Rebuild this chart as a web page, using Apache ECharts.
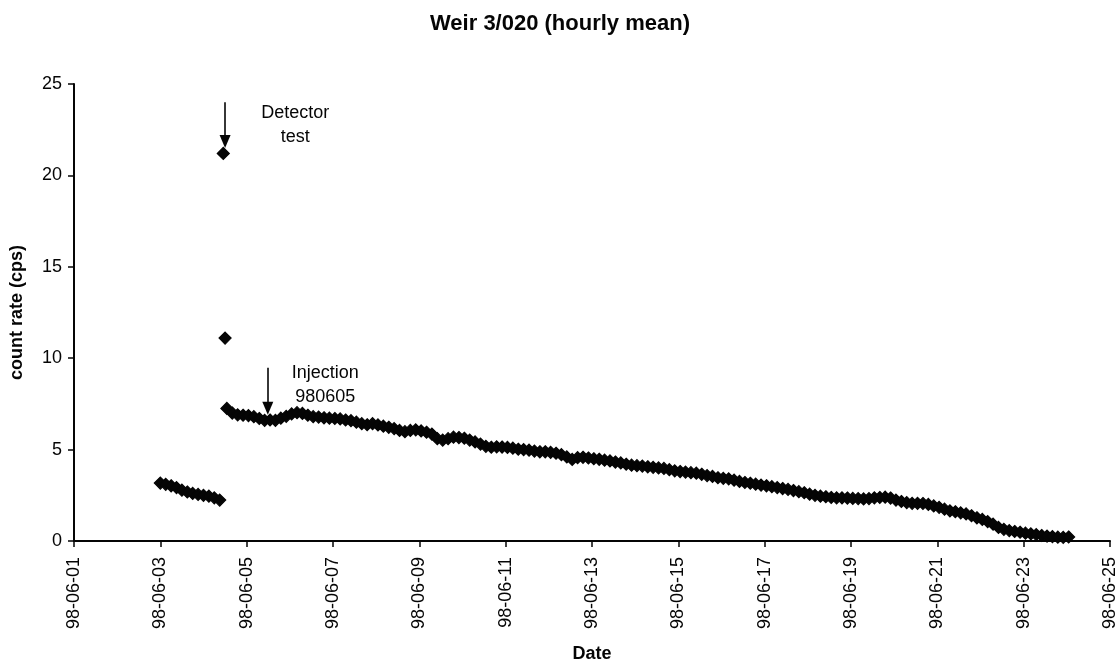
<!DOCTYPE html>
<html>
<head>
<meta charset="utf-8">
<script src="https://cdn.jsdelivr.net/npm/echarts@6/dist/echarts.min.js"></script>
<style>
  html, body { margin: 0; padding: 0; background: #fff; }
  #chart { width: 1120px; height: 668px; }
</style>
</head>
<body>
<div id="chart"></div>
<script>
// Weir 3/020 – hourly mean count rate, June 1998.
// Times are given as "MM-DD HH:mm" in 1998; samples are every 3 hours within each run.

const dateTicks = ['98-06-01', '98-06-03', '98-06-05', '98-06-07', '98-06-09', '98-06-11', '98-06-13',
  '98-06-15', '98-06-17', '98-06-19', '98-06-21', '98-06-23', '98-06-25'];
const countTicks = [0, 5, 10, 15, 20, 25];

const stepHours = 3;

// Background run before the detector test
const run1Start = '06-03 00:00';
const run1Values = [3.17, 3.1, 3.02, 2.92, 2.78, 2.68, 2.6, 2.55, 2.5, 2.45, 2.36, 2.24];

// Detector test readings
const testTimes = ['06-04 11:00', '06-04 12:00'];
const testValues = [21.2, 11.1];

// Run after the detector test, through the injection of 980605
const run2Start = '06-04 13:00';
const run2Values = [
  7.25, 7.0, 6.9, 6.88, 6.86, 6.8, 6.7, 6.6,
  6.62, 6.6, 6.72, 6.82, 6.95, 7.02, 6.98, 6.88,
  6.8, 6.78, 6.74, 6.72, 6.7, 6.68, 6.62, 6.58,
  6.5, 6.42, 6.36, 6.42, 6.35, 6.28, 6.22, 6.15,
  6.05, 5.98, 6.05, 6.08, 6.02, 5.95, 5.85, 5.6,
  5.52, 5.6, 5.68, 5.66, 5.62, 5.52, 5.42, 5.3,
  5.18, 5.13, 5.15, 5.14, 5.12, 5.08, 5.02, 5.0,
  4.97, 4.92, 4.88, 4.88, 4.85, 4.8, 4.72, 4.6,
  4.46, 4.56, 4.58, 4.54, 4.5, 4.47, 4.42, 4.38,
  4.32, 4.27, 4.2, 4.15, 4.12, 4.1, 4.06, 4.03,
  4.0, 3.97, 3.9, 3.84, 3.8, 3.77, 3.74, 3.71,
  3.65, 3.58, 3.53, 3.46, 3.43, 3.4, 3.33, 3.26,
  3.2, 3.16, 3.11, 3.06, 3.02, 2.97, 2.92, 2.87,
  2.82, 2.76, 2.7, 2.64, 2.56, 2.5, 2.45, 2.42,
  2.38, 2.36, 2.36, 2.35, 2.33, 2.32, 2.3, 2.32,
  2.36, 2.38, 2.4, 2.35, 2.24, 2.16, 2.1, 2.06,
  2.06, 2.05, 2.0, 1.92, 1.84, 1.74, 1.65, 1.6,
  1.54, 1.48, 1.38, 1.27, 1.18, 1.06, 0.92, 0.74,
  0.64, 0.57, 0.52, 0.48, 0.43, 0.39, 0.35, 0.3,
  0.27, 0.24, 0.21, 0.2, 0.22
];

// Annotations: arrow start/end and text anchor in [time, cps]
const detectorNote = { text: 'Detector\ntest', arrowTime: '06-04 12:00', arrowFrom: 24.0, arrowTo: 21.85, textAt: ['06-06 03:00', 22.75] };
const injectionNote = { text: 'Injection\n980605', arrowTime: '06-05 11:45', arrowFrom: 9.48, arrowTo: 7.26, textAt: ['06-06 19:40', 8.54] };

// Days since 1998-06-01 00:00
function dayOffset(str) {
  const [md, hm] = str.split(' ');
  const [m, d] = md.split('-').map(Number);
  const [h, mi] = hm.split(':').map(Number);
  return (d - 1) + (h + mi / 60) / 24;
}

function runPoints(start, values) {
  const t0 = dayOffset(start);
  return values.map((v, i) => [t0 + i * stepHours / 24, v]);
}

const points = []
  .concat(runPoints(run1Start, run1Values))
  .concat(testTimes.map((t, i) => [dayOffset(t), testValues[i]]))
  .concat(runPoints(run2Start, run2Values));

const FONT = '"Liberation Sans", Arial, Helvetica, sans-serif';
const INK = '#050505';

function arrowLine(note) {
  const x = dayOffset(note.arrowTime);
  return [{ coord: [x, note.arrowFrom] }, { coord: [x, note.arrowTo] }];
}
function notePoint(note) {
  return {
    coord: [dayOffset(note.textAt[0]), note.textAt[1]],
    label: { formatter: note.text }
  };
}

const chart = echarts.init(document.getElementById('chart'), null, { renderer: 'canvas' });
chart.setOption({
  animation: false,
  backgroundColor: '#fff',
  title: {
    text: 'Weir 3/020 (hourly mean)',
    left: 'center',
    top: 8,
    textStyle: { fontFamily: FONT, fontSize: 22, fontWeight: 'bold', color: INK }
  },
  grid: { left: 74, right: 10, top: 84, bottom: 121, containLabel: false },
  xAxis: {
    type: 'value',
    min: 0,
    max: (dateTicks.length - 1) * 2,
    interval: 2,
    name: 'Date',
    nameLocation: 'middle',
    nameGap: 104,
    nameTextStyle: { fontFamily: FONT, fontSize: 18, fontWeight: 'bold', color: INK },
    axisLine: { lineStyle: { color: INK, width: 2 } },
    axisTick: { show: true, inside: false, length: 6, lineStyle: { color: INK, width: 1.5 } },
    axisLabel: {
      rotate: 90,
      margin: 16,
      fontFamily: FONT,
      fontSize: 18,
      color: INK,
      formatter: v => dateTicks[Math.round(v / 2)] || ''
    },
    splitLine: { show: false }
  },
  yAxis: {
    type: 'value',
    min: countTicks[0],
    max: countTicks[countTicks.length - 1],
    interval: countTicks[1] - countTicks[0],
    name: 'count rate (cps)',
    nameLocation: 'middle',
    nameGap: 48,
    nameRotate: 90,
    nameTextStyle: { fontFamily: FONT, fontSize: 18, fontWeight: 'bold', color: INK },
    axisLine: { show: true, lineStyle: { color: INK, width: 2 } },
    axisTick: { show: true, inside: false, length: 6, lineStyle: { color: INK, width: 1.5 } },
    axisLabel: { margin: 12, fontFamily: FONT, fontSize: 18, color: INK },
    splitLine: { show: false }
  },
  series: [{
    type: 'scatter',
    data: points,
    symbol: 'diamond',
    symbolSize: 12,
    itemStyle: { color: INK, opacity: 1, borderColor: INK, borderWidth: 1.2 },
    silent: true,
    markLine: {
      silent: true,
      symbol: ['none', 'triangle'],
      symbolSize: [11, 13],
      lineStyle: { color: INK, width: 1.6, type: 'solid', opacity: 1 },
      label: { show: false },
      data: [arrowLine(detectorNote), arrowLine(injectionNote)]
    },
    markPoint: {
      silent: true,
      symbol: 'circle',
      symbolSize: 0,
      itemStyle: { color: 'transparent' },
      label: {
        show: true,
        position: 'inside',
        align: 'center',
        verticalAlign: 'middle',
        fontFamily: FONT,
        fontSize: 18,
        lineHeight: 24,
        color: INK
      },
      data: [notePoint(detectorNote), notePoint(injectionNote)]
    }
  }]
});
</script>
</body>
</html>
